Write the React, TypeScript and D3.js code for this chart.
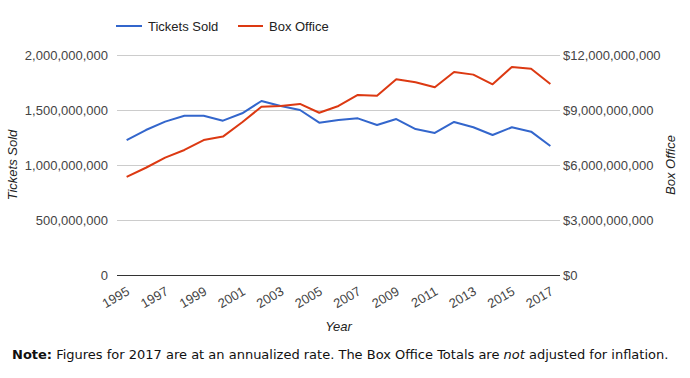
import React from "react";
import * as d3 from "d3";

const years = [1995,1996,1997,1998,1999,2000,2001,2002,2003,2004,2005,2006,2007,2008,2009,2010,2011,2012,2013,2014,2015,2016,2017];
const ticketsSold = [1227e6,1318e6,1394e6,1448e6,1448e6,1403e6,1470e6,1582e6,1536e6,1500e6,1385e6,1409e6,1424e6,1364e6,1418e6,1327e6,1291e6,1391e6,1343e6,1273e6,1343e6,1303e6,1173e6];
const boxOffice = [5.35e9,5.85e9,6.40e9,6.82e9,7.36e9,7.55e9,8.33e9,9.18e9,9.22e9,9.33e9,8.85e9,9.22e9,9.82e9,9.78e9,10.68e9,10.51e9,10.24e9,11.07e9,10.93e9,10.40e9,11.35e9,11.25e9,10.42e9];
const leftTicks = [0, 500e6, 1000e6, 1500e6, 2000e6];
const rightTicks = [0, 3e9, 6e9, 9e9, 12e9];
const xTickYears = [1995,1997,1999,2001,2003,2005,2007,2009,2011,2013,2015,2017];
const seriesNames = ["Tickets Sold", "Box Office"];
const colors = ["#3366cc", "#dc3912"];

export default function App() {
  const W = 690, H = 378;
  const left = 117, right = 560, top = 55, bottom = 275;
  const x = d3.scaleBand<number>().domain(years).range([left, right]);
  const cx = (yr: number) => (x(yr) as number) + x.bandwidth() / 2;
  const yL = d3.scaleLinear().domain([0, 2000e6]).range([bottom, top]);
  const yR = d3.scaleLinear().domain([0, 12e9]).range([bottom, top]);
  const fmt = d3.format(",");
  const lineL = d3.line<number>().x((_, i) => cx(years[i])).y((d) => yL(d));
  const lineR = d3.line<number>().x((_, i) => cx(years[i])).y((d) => yR(d));
  const font = "Arial, 'Liberation Sans', sans-serif";

  return (
    <svg width={W} height={H} style={{ position: "absolute", left: 0, top: 0, background: "#fff" }}>
      <rect width={W} height={H} fill="#fff" />
      {/* legend */}
      <g fontFamily={font} fontSize={13} fill="#222">
        <line x1={116} x2={142} y1={26} y2={26} stroke={colors[0]} strokeWidth={2} />
        <text x={148} y={30.5}>{seriesNames[0]}</text>
        <line x1={238} x2={263} y1={26} y2={26} stroke={colors[1]} strokeWidth={2} />
        <text x={269} y={30.5}>{seriesNames[1]}</text>
      </g>
      {/* gridlines */}
      {leftTicks.slice(1).map((t) => (
        <line key={t} x1={left} x2={right} y1={yL(t) + 0.5} y2={yL(t) + 0.5} stroke="#cccccc" strokeWidth={1} />
      ))}
      {/* left axis labels */}
      <g fontFamily={font} fontSize={13} fill="#444" textAnchor="end">
        {leftTicks.map((t) => (
          <text key={t} x={108} y={yL(t) + 4.5}>{fmt(t)}</text>
        ))}
      </g>
      {/* right axis labels */}
      <g fontFamily={font} fontSize={13} fill="#444" textAnchor="start">
        {rightTicks.map((t) => (
          <text key={t} x={563} y={yR(t) + 4.5}>{"$" + fmt(t)}</text>
        ))}
      </g>
      {/* lines */}
      <path d={lineL(ticketsSold) || ""} fill="none" stroke={colors[0]} strokeWidth={2} strokeLinejoin="round" />
      <path d={lineR(boxOffice) || ""} fill="none" stroke={colors[1]} strokeWidth={2} strokeLinejoin="round" />
      {/* baseline */}
      <line x1={left} x2={right} y1={bottom + 0.5} y2={bottom + 0.5} stroke="#333" strokeWidth={1} />
      {/* x labels */}
      <g fontFamily={font} fontSize={13} fill="#444" textAnchor="end">
        {xTickYears.map((yr) => (
          <text key={yr} transform={`translate(${cx(yr) + 4},${bottom + 19}) rotate(-30)`}>{yr}</text>
        ))}
      </g>
      {/* axis titles */}
      <text x={(left + right) / 2} y={331} textAnchor="middle" fontFamily={font} fontSize={13} fontStyle="italic" fill="#222">Year</text>
      <text transform={`translate(17,${(top + bottom) / 2}) rotate(-90)`} textAnchor="middle" fontFamily={font} fontSize={13} fontStyle="italic" fill="#222">Tickets Sold</text>
      <text transform={`translate(675,${(top + bottom) / 2}) rotate(-90)`} textAnchor="middle" fontFamily={font} fontSize={13} fontStyle="italic" fill="#222">Box Office</text>
      {/* note */}
      <text x={12} y={359} fontFamily="Verdana, 'DejaVu Sans', sans-serif" fontSize={13} fill="#111">
        <tspan fontWeight="bold">Note:</tspan>
        <tspan> Figures for 2017 are at an annualized rate. The Box Office Totals are </tspan>
        <tspan fontStyle="italic">not</tspan>
        <tspan> adjusted for inflation.</tspan>
      </text>
    </svg>
  );
}
